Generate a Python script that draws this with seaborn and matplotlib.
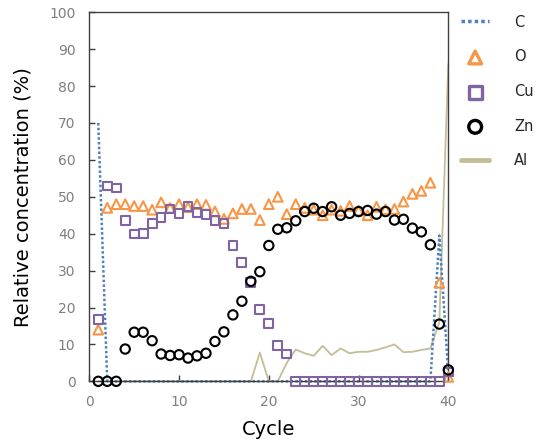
import matplotlib
matplotlib.use("Agg")
import matplotlib.pyplot as plt
import numpy as np
import pandas as pd
import seaborn as sns

# ---- data ----
cycles = list(range(1, 41))

C_vals = [70] + [0] * 37 + [39.5, 2]

O_vals = [14, 47, 48, 48, 47.5, 47.5, 46.5, 48.5, 47, 48,
          47.2, 48, 47.8, 46, 44, 45.5, 46.7, 46.7, 43.7, 48,
          50, 45.3, 48, 47, 46.5, 45, 46.5, 46.2, 47.5, 46.3,
          45, 47.3, 46.6, 46.7, 48.7, 50.8, 51.6, 53.8, 26.7, 1.2]

Cu_vals = [16.8, 52.9, 52.4, 43.5, 39.9, 40.1, 42.8, 44.4, 46.7, 45.4,
           47.3, 45.8, 45.2, 43.5, 42.8, 36.8, 32.1, 26.8, 19.5, 15.7,
           9.6, 7.4] + [0] * 17 + [2.5]

Zn_vals = [0, 0, 0, 8.75, 13.3, 13.3, 11, 7.4, 7.0, 7.2,
           6.3, 6.9, 7.6, 10.8, 13.4, 18, 21.7, 27.1, 29.7, 36.8,
           41.2, 41.6, 43.5, 46, 46.9, 46, 47.3, 45, 45.5, 46,
           46.3, 45.3, 46, 43.7, 43.9, 41.5, 40.5, 37, 15.5, 3.1]

Al_vals = [0] * 18 + [7.8, 0, 0, 5, 8.6, 7.6, 6.9, 9.6, 7.1, 8.9,
                      7.6, 8.0, 8.0, 8.5, 9.2, 10.0, 7.9, 8.0, 8.5, 8.9,
                      16, 86]

series_order = ["C", "O", "Cu", "Zn", "Al"]
x_ticks = [0, 10, 20, 30, 40]
y_ticks = list(range(0, 101, 10))

# ---- style ----
c_blue = "#4F81BD"
c_orange = "#F79646"
c_purple = "#8064A2"
c_black = "#000000"
c_tan = "#C4BD97"

sns.set_style("ticks")
plt.rcParams["font.family"] = ["DejaVu Sans"]

fig = plt.figure(figsize=(5.36, 4.42), dpi=100)
ax = fig.add_axes([0.1666, 0.1373, 0.6698, 0.8349])

sns.lineplot(x=cycles, y=Al_vals, color=c_tan, lw=1.3, label="Al", ax=ax, zorder=1)
sns.lineplot(x=cycles, y=C_vals, color=c_blue, lw=1.8, linestyle=(0, (1, 0.9)),
             label="C", ax=ax, zorder=2)
sns.scatterplot(x=cycles, y=O_vals, marker="^", s=48, facecolor="none",
                edgecolor=c_orange, linewidth=1.5, label="O", ax=ax, zorder=3)
sns.scatterplot(x=cycles, y=Cu_vals, marker="s", s=40, facecolor="none",
                edgecolor=c_purple, linewidth=1.5, label="Cu", ax=ax, zorder=4)
sns.scatterplot(x=cycles, y=Zn_vals, marker="o", s=45, facecolor="none",
                edgecolor=c_black, linewidth=1.5, label="Zn", ax=ax, zorder=5)

for a in ax.collections + ax.lines:
    a.set_clip_on(False)

ax.set_xlim(0, 40)
ax.set_ylim(0, 100)
ax.set_xticks(x_ticks)
ax.set_yticks(y_ticks)
ax.tick_params(direction="in", length=4, width=1, color="#404040",
               labelcolor="#7f7f7f", labelsize=10)
ax.tick_params(axis="y", pad=10)
ax.tick_params(axis="x", pad=10)
for sp in ax.spines.values():
    sp.set_visible(True)
    sp.set_color("#404040")
    sp.set_linewidth(1)

ax.set_xlabel("Cycle", fontsize=14, color="black", labelpad=8)
ax.set_ylabel("Relative concentration (%)", fontsize=14, color="black", labelpad=12)

handles, labels = ax.get_legend_handles_labels()
lg = ax.get_legend()
if lg is not None:
    lg.remove()
hmap = dict(zip(labels, handles))
leg = fig.legend([hmap[k] for k in series_order], series_order,
                 loc="upper left", bbox_to_anchor=(0.860, 0.967),
                 frameon=False, fontsize=10.5, handlelength=1.95,
                 handletextpad=1.7, labelspacing=1.35, borderpad=0,
                 borderaxespad=0)
for h, lab in zip(leg.legend_handles, series_order):
    if lab == "Al":
        h.set_linewidth(3.5)
    elif lab == "C":
        h.set_linewidth(2.5)
    else:
        h.set_sizes([85])
        h.set_linewidth(2.4)

fig.savefig("out.png", dpi=100)
